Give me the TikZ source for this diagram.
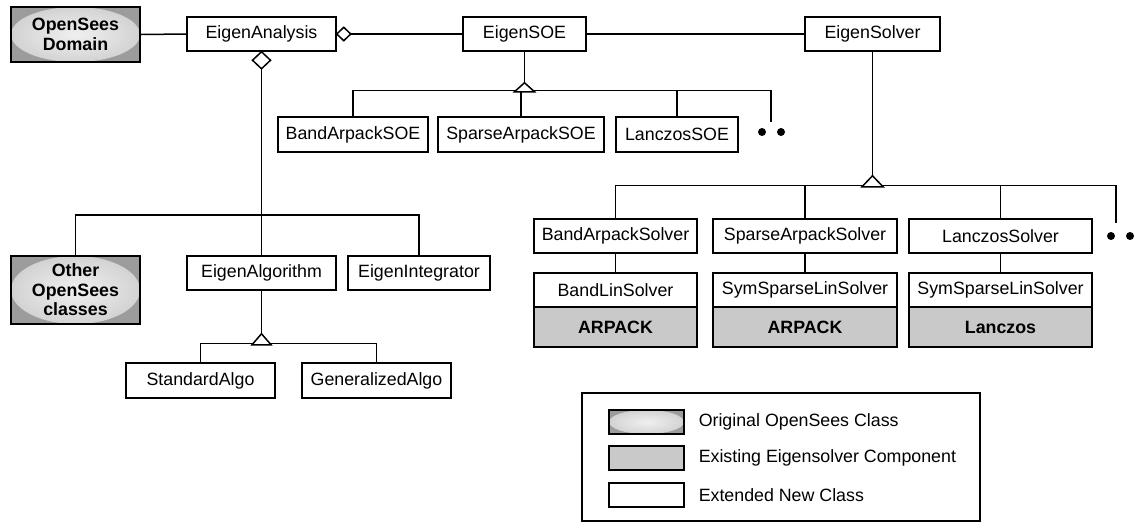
\documentclass[tikz,border=0pt]{standalone}
\usepackage{fontspec}
\setmainfont{Liberation Sans}
\usetikzlibrary{calc}
\newcommand\myfs{\fontsize{17.8}{19.5}\selectfont}
\pgfdeclareradialshading{ellshade}{\pgfpoint{0bp}{0bp}}{color(0bp)=(white!94!black); color(18bp)=(white!86!black); color(50bp)=(white!70!black)}
\begin{document}
\begin{tikzpicture}[x=1pt,y=-1pt, line width=1.5pt,
  cls/.style={draw, fill=white, inner sep=0pt, minimum height=34pt, font=\myfs},
  orig/.style={draw, line width=1.8pt, inner sep=0pt, fill=white!61!black, font=\myfs\bfseries, align=center,
    path picture={\shade[shading=ellshade] let \p1=(path picture bounding box.south west), \p2=(path picture bounding box.north east) in (path picture bounding box.center) ellipse [x radius={(\x2-\x1)/2}, y radius={(\y2-\y1)/2}];}},
  comp/.style={draw, fill=gray!42, inner sep=0pt, minimum height=40pt, font=\myfs\bfseries},
  hollow/.style={draw, fill=white, line join=miter},
  dotsty/.style={fill=black}]
\useasboundingbox (0,0) rectangle (1137,523);

% top row
\node[orig, minimum width=129pt, minimum height=55pt] (dom) at (75.5,34.5) {OpenSees\\Domain};
\node[cls, minimum width=149pt] (ea) at (261.5,34) {EigenAnalysis};
\node[cls, minimum width=123pt] (soe) at (524.5,34) {EigenSOE};
\node[cls, minimum width=135pt] (es) at (872.5,34) {EigenSolver};

% SOE children
\node[cls, minimum width=150pt, minimum height=35pt] (bsoe) at (353,134.5) {BandArpackSOE};
\node[cls, minimum width=166pt, minimum height=35pt] (ssoe) at (521,134.5) {SparseArpackSOE};
\node[cls, minimum width=122pt, minimum height=35pt] (lsoe) at (677,134.5) {LanczosSOE};

% analysis children
\node[orig, minimum width=129pt, minimum height=68pt] (other) at (75.5,290) {Other\\OpenSees\\classes};
\node[cls, minimum width=149pt] (ealg) at (261.5,273) {EigenAlgorithm};
\node[cls, minimum width=142pt] (eint) at (419,273) {EigenIntegrator};
\node[cls, minimum width=149pt, minimum height=35pt] (sa) at (200.5,380.5) {StandardAlgo};
\node[cls, minimum width=149pt, minimum height=35pt] (ga) at (376.5,380.5) {GeneralizedAlgo};

% solver children
\node[cls, minimum width=163pt] (bas) at (615.5,236) {BandArpackSolver};
\node[cls, minimum width=184pt] (sas) at (805,236) {SparseArpackSolver};
\node[cls, minimum width=183pt] (las) at (1000.5,236) {LanczosSolver};
\node[cls, minimum width=163pt] (bls) at (615.5,290) {BandLinSolver};
\node[cls, minimum width=184pt] (sls1) at (805,290) {SymSparseLinSolver};
\node[cls, minimum width=183pt] (sls2) at (1000.5,290) {SymSparseLinSolver};
\node[comp, minimum width=163pt] (ar1) at (615.5,327) {ARPACK};
\node[comp, minimum width=184pt] (ar2) at (805,327) {ARPACK};
\node[comp, minimum width=183pt] (lz) at (1000.5,327) {Lanczos};

% top associations
\draw (dom.east) -- (ea.west);
\draw (ea.east) ++(14,0) -- (soe.west);
\draw (soe.east) -- (es.west);
\draw[hollow] (ea.east) -- ++(7,-6.7) -- ++(7,6.7) -- ++(-7,6.7) -- cycle;

% analysis aggregation
\draw (ea.south) ++(0,17) -- (ealg.north);
\draw (other.north) -- ++(0,-40) -| (eint.north);
\draw[hollow] (ea.south) -- ++(9,8.5) -- ++(-9,8.5) -- ++(-9,-8.5) -- cycle;

% SOE inheritance
\coordinate (stub1) at (771,122);
\draw (soe.south) -- ++(0,31) coordinate (t1);
\draw (bsoe.north) -- ++(0,-26) -| (stub1);
\draw (ssoe.north) -- ++(0,-26);
\draw (lsoe.north) -- ++(0,-26);
\draw[hollow] (t1) -- ++(10,9) -- ++(-20,0) -- cycle;
\fill[dotsty] (762,132) circle[radius=4pt];
\fill[dotsty] (781,132) circle[radius=4pt];

% Solver inheritance
\coordinate (stub2) at (1116,223);
\draw (es.south) -- ++(0,124) coordinate (t2);
\draw (bas.north) -- ++(0,-33) -| (stub2);
\draw (sas.north) -- ++(0,-33);
\draw (las.north) -- ++(0,-33);
\draw[hollow] (t2) -- ++(10.5,11) -- ++(-21,0) -- cycle;
\fill[dotsty] (1111,236) circle[radius=4pt];
\fill[dotsty] (1130,236) circle[radius=4pt];
\draw (bas.south) -- (bls.north);
\draw (sas.south) -- (sls1.north);
\draw (las.south) -- (sls2.north);

% Algorithm inheritance
\draw (ealg.south) -- ++(0,43) coordinate (t3);
\draw (sa.north) -- ++(0,-19) -| (ga.north);
\draw[hollow] (t3) -- ++(9.5,11) -- ++(-19,0) -- cycle;

% legend
\node[draw, line width=2.5pt, inner sep=0pt, minimum width=398pt, minimum height=128pt] (leg) at (781,457) {};
\node[orig, minimum width=75pt, minimum height=24pt] (sw1) at (646.5,422) {};
\node[draw, fill=gray!42, inner sep=0pt, minimum width=75pt, minimum height=24pt] (sw2) at (646.5,458) {};
\node[draw, fill=white, inner sep=0pt, minimum width=75pt, minimum height=24pt] (sw3) at (646.5,495) {};
\node[anchor=west, inner sep=0pt, font=\myfs] (l1) at (698,422) {Original OpenSees Class};
\node[anchor=west, inner sep=0pt, font=\myfs] (l2) at (698,458) {Existing Eigensolver Component};
\node[anchor=west, inner sep=0pt, font=\myfs] (l3) at (698,495) {Extended New Class};
\end{tikzpicture}
\end{document}
